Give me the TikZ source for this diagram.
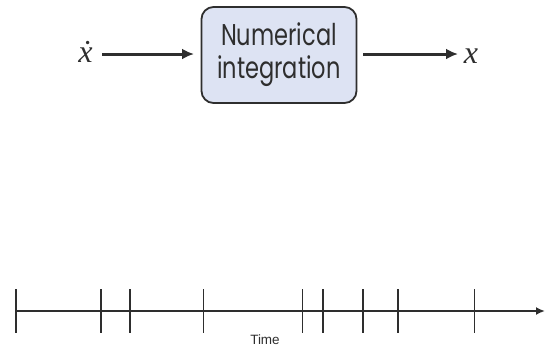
\documentclass[tikz,border=0pt]{standalone}
\usepackage{fontspec}
\setsansfont[FakeStretch=0.75]{Poppins}
\newfontfamily\labelfont{Liberation Sans}
\newfontfamily\sigfont{Liberation Serif}
\usetikzlibrary{arrows.meta}
\definecolor{boxfill}{HTML}{DDE3F3}
\definecolor{ink}{HTML}{2E2E2E}
\tikzset{
  flow/.style={line width=3pt, draw=ink, -{Latex[length=12pt,width=11pt]}},
  blockbox/.style={draw=ink, line width=1.8pt, fill=boxfill, rounded corners=12pt,
    minimum width=155pt, minimum height=96pt, align=center, inner sep=0pt,
    font=\sffamily\fontsize{30}{33}\selectfont, text=ink},
  sig/.style={font=\sigfont\itshape\fontsize{32}{34}\selectfont, text=ink, inner sep=0pt},
  tick/.style={line width=1.8pt, draw=ink},
  axis/.style={line width=1.8pt, draw=ink, -{Latex[length=9pt,width=8pt]}}
}
\begin{document}
\begin{tikzpicture}[x=1pt,y=-1pt]
\useasboundingbox (0,0) rectangle (550,349);
% integrator block with input and output signals
\node[blockbox] (integ) at (279,55) {Numerical\\integration};
\node[sig, anchor=base] (xdot) at (85.5,62) {\.{x}};
\node[sig, anchor=base] (xout) at (471,63) {x};
\coordinate (inEnd) at (102,54);
\coordinate (inTip) at (194,54);
\coordinate (outStart) at (363,54);
\coordinate (outEnd) at (458,54);
\draw[flow] (inEnd) -- (inTip);
\draw[flow] (outStart) -- (outEnd);
% time axis with uneven step marks
\coordinate (t0) at (16,311);
\coordinate (tEnd) at (545,311);
\draw[axis] (t0) -- (tEnd);
\foreach \t in {16,101,130,203.5,302.5,323,363,398,474.5}{
  \draw[tick] (\t,289) -- (\t,333);
}
\node[font=\labelfont\fontsize{13.5}{15}\selectfont, text=ink] (time) at (265,340) {Time};
\end{tikzpicture}
\end{document}
